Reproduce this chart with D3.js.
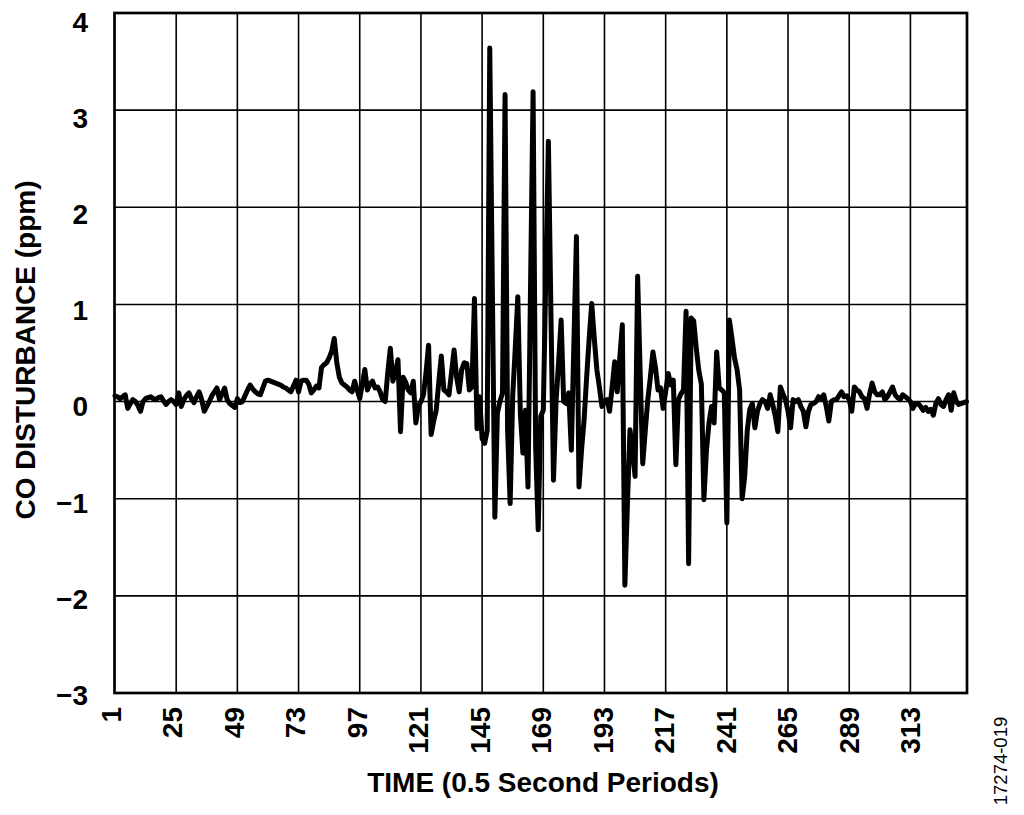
<!DOCTYPE html>
<html>
<head>
<meta charset="utf-8">
<script src="https://cdn.jsdelivr.net/npm/d3@7"></script>
<style>
  html, body { margin: 0; padding: 0; background: #fff; }
  svg { display: block; }
  text { font-family: "Liberation Sans", Arial, Helvetica, sans-serif; fill: #000; }
</style>
</head>
<body>
<svg id="chart" width="1024" height="815"></svg>
<script>
// ---- data (values per 0.5 s period, starting at period 1) ----
const coValues = [
  0.06, 0.05, 0.03, 0.05, 0.07, -0.07, -0.02, 0.02, 0.00, -0.04,
  -0.10, 0.00, 0.03, 0.04, 0.05, 0.03, 0.02, 0.04, 0.05, 0.01,
  -0.03, 0.00, 0.02, 0.00, -0.03, 0.09, -0.05, 0.02, 0.06, 0.09,
  0.03, -0.01, 0.05, 0.10, 0.02, -0.10, -0.05, 0.00, 0.06, 0.10,
  0.14, 0.02, 0.08, 0.14, 0.02, -0.02, -0.04, -0.06, 0.03, -0.01,
  0.00, 0.06, 0.12, 0.17, 0.13, 0.10, 0.08, 0.07, 0.14, 0.21,
  0.22, 0.21, 0.20, 0.19, 0.18, 0.17, 0.15, 0.14, 0.12, 0.10,
  0.16, 0.22, 0.10, 0.21, 0.22, 0.22, 0.18, 0.09, 0.12, 0.16,
  0.14, 0.35, 0.38, 0.40, 0.45, 0.52, 0.65, 0.40, 0.25, 0.19,
  0.17, 0.15, 0.12, 0.10, 0.21, 0.12, 0.03, 0.18, 0.33, 0.12,
  0.18, 0.21, 0.14, 0.15, 0.10, 0.02, 0.00, 0.30, 0.55, 0.21,
  0.30, 0.43, -0.31, 0.25, 0.20, 0.12, 0.09, 0.21, -0.22, -0.05,
  0.00, 0.07, 0.30, 0.58, -0.34, -0.20, -0.09, 0.20, 0.47, 0.12,
  0.10, 0.07, 0.30, 0.53, 0.25, 0.10, 0.33, 0.40, 0.39, 0.12,
  0.15, 1.06, -0.28, 0.05, -0.38, -0.43, -0.30, 3.64, 1.20, -1.19,
  -0.12, 0.00, 0.09, 3.16, -0.30, -1.05, 0.05, 0.55, 1.08, -0.12,
  -0.53, -0.09, -0.88, 1.20, 3.19, -0.46, -1.32, -0.15, -0.09, 1.30,
  2.68, 0.90, -0.81, 0.00, 0.40, 0.84, 0.00, -0.02, 0.09, -0.50,
  0.60, 1.70, -0.88, -0.50, -0.19, 0.25, 0.65, 1.01, 0.65, 0.33,
  0.15, -0.05, 0.00, 0.02, -0.10, 0.15, 0.41, 0.10, 0.45, 0.79,
  -1.89, -1.05, -0.29, -0.50, -0.77, 1.29, 0.30, -0.64, -0.30, 0.02,
  0.25, 0.51, 0.35, 0.12, 0.14, -0.07, 0.10, 0.29, 0.17, 0.22,
  -0.65, 0.02, 0.08, 0.12, 0.93, -1.67, 0.86, 0.83, 0.55, 0.32,
  0.18, -1.01, -0.50, -0.22, -0.05, -0.22, 0.51, 0.14, 0.12, 0.09,
  -1.25, 0.84, 0.65, 0.45, 0.33, 0.12, -1.00, -0.77, -0.30, -0.08,
  -0.02, -0.27, -0.10, -0.02, 0.02, 0.00, -0.07, 0.07, -0.03, -0.15,
  -0.31, 0.15, 0.08, 0.02, -0.10, -0.27, 0.02, 0.00, 0.02, -0.05,
  -0.10, -0.26, -0.10, -0.03, -0.02, 0.00, 0.05, 0.03, 0.07, -0.05,
  -0.20, 0.00, 0.02, 0.02, 0.06, 0.10, 0.05, 0.06, 0.02, -0.10,
  0.15, 0.12, 0.10, 0.05, 0.03, -0.07, 0.08, 0.19, 0.10, 0.07,
  0.07, 0.10, 0.02, 0.05, 0.10, 0.15, 0.07, 0.04, 0.02, 0.07,
  0.05, 0.03, 0.00, -0.07, -0.02, -0.02, -0.05, -0.09, -0.06, -0.10,
  -0.08, -0.14, -0.02, 0.03, -0.03, -0.05, 0.02, 0.07, -0.09, 0.09,
  0.00, -0.03, -0.02, -0.01, 0.00
];
const xTicks = [1, 25, 49, 73, 97, 121, 145, 169, 193, 217, 241, 265, 289, 313];
const yTicks = [4, 3, 2, 1, 0, -1, -2, -3];
const xTitle = "TIME (0.5 Second Periods)";
const yTitle = "CO DISTURBANCE (ppm)";
const figureId = "17274-019";

// ---- layout ----
const svg = d3.select("#chart");
const plotL = 115, plotR = 967, plotT = 13, plotB = 693;

const x = d3.scaleLinear().domain([1, 335.2]).range([plotL, plotR]);
const y = d3.scaleLinear().domain([-3, 4]).range([plotB, plotT]);
// label placement scales (labels sit slightly offset from grid in the original)
const xLab = d3.scaleLinear().domain([1, 313]).range([111, 910]);
const yLab = d3.scaleLinear().domain([4, -3]).range([31.5, 705]);

// grid
const g = svg.append("g");
g.selectAll("line.vg")
  .data(xTicks.filter(d => d !== 1))
  .enter().append("line")
  .attr("x1", d => x(d)).attr("x2", d => x(d))
  .attr("y1", plotT).attr("y2", plotB)
  .attr("stroke", "#000").attr("stroke-width", 1.6);
g.selectAll("line.hg")
  .data(yTicks.filter(d => d !== 4 && d !== -3))
  .enter().append("line")
  .attr("x1", plotL).attr("x2", plotR)
  .attr("y1", d => y(d)).attr("y2", d => y(d))
  .attr("stroke", "#000").attr("stroke-width", 1.6);

// data line
const pts = coValues.map((v, i) => [i + 1, v]);
const line = d3.line().x(d => x(d[0])).y(d => y(d[1]));
svg.append("path")
  .datum(pts)
  .attr("d", line)
  .attr("fill", "none")
  .attr("stroke", "#000")
  .attr("stroke-width", 5)
  .attr("stroke-linejoin", "round")
  .attr("stroke-linecap", "round");

// frame
svg.append("rect")
  .attr("x", plotL - 0.5).attr("y", plotT)
  .attr("width", plotR - plotL + 0.5).attr("height", plotB - plotT)
  .attr("fill", "none").attr("stroke", "#000").attr("stroke-width", 2.7);

// y tick labels
svg.selectAll("text.ytl")
  .data(yTicks)
  .enter().append("text")
  .attr("x", 88)
  .attr("y", d => yLab(d))
  .attr("text-anchor", "end")
  .attr("font-size", 28)
  .attr("font-weight", "bold")
  .text(d => d < 0 ? "\u2212" + Math.abs(d) : String(d));

// x tick labels (rotated)
svg.selectAll("text.xtl")
  .data(xTicks)
  .enter().append("text")
  .attr("transform", d => `translate(${xLab(d) + 10},707) rotate(-90)`)
  .attr("text-anchor", "end")
  .attr("font-size", 28)
  .attr("font-weight", "bold")
  .text(d => String(d));

// axis titles
svg.append("text")
  .attr("x", 543).attr("y", 792)
  .attr("text-anchor", "middle")
  .attr("font-size", 28)
  .attr("font-weight", "bold")
  .text(xTitle);

svg.append("text")
  .attr("transform", "translate(35,350) rotate(-90)")
  .attr("text-anchor", "middle")
  .attr("font-size", 28)
  .attr("font-weight", "bold")
  .text(yTitle);

// figure id
svg.append("text")
  .attr("transform", "translate(1007,761) rotate(-90)")
  .attr("text-anchor", "middle")
  .attr("font-size", 18.5)
  .text(figureId);
</script>
</body>
</html>
